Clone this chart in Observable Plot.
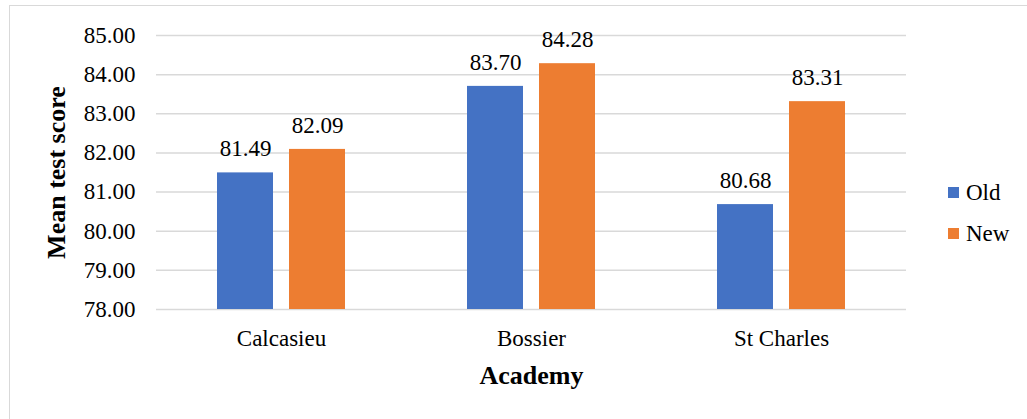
<!DOCTYPE html>
<html>
<head>
<meta charset="utf-8">
<script src="https://cdn.jsdelivr.net/npm/d3@7"></script>
<script src="https://cdn.jsdelivr.net/npm/@observablehq/plot@0.6"></script>
<style>
  html, body { margin: 0; padding: 0; background: #fff; overflow: hidden; width: 1027px; height: 419px; }
  #frame { position: absolute; left: 9px; top: 5px; width: 1100px; height: 500px; border: 1.5px solid #d9d9d9; box-sizing: border-box; }
  #chart { position: absolute; left: 0; top: 0; }
  #chart svg text, #chart svg g { font-family: "Liberation Serif", "Times New Roman", serif !important; font-variant: normal !important; font-variant-numeric: normal !important; }
  #legend { position: absolute; left: 948px; top: 181px; font-family: "Liberation Serif", "Times New Roman", serif; font-size: 23px; color: #000; }
  .row { display: flex; align-items: center; height: 23px; line-height: 23px; margin-bottom: 18px; }
  .sw { width: 11px; height: 11px; margin-right: 7px; }
</style>
</head>
<body>
<div id="frame"></div>
<div id="chart"></div>
<div id="legend"></div>
<script>
const academies = ["Calcasieu", "Bossier", "St Charles"];
const seriesNames = ["Old", "New"];
const oldScores = [81.49, 83.70, 80.68];
const newScores = [82.09, 84.28, 83.31];
const yTicks = [78, 79, 80, 81, 82, 83, 84, 85];
const colors = ["#4472C4", "#ED7D31"];
const yTitle = "Mean test score";
const xTitle = "Academy";

const data = academies.flatMap((a, i) => [
  {academy: a, series: seriesNames[0], value: oldScores[i]},
  {academy: a, series: seriesNames[1], value: newScores[i]}
]);

const fmt = d => d.toFixed(2);

const chart = Plot.plot({
  width: 1027,
  height: 419,
  marginLeft: 156,
  marginRight: 121,
  marginTop: 35,
  marginBottom: 110,
  style: {fontFamily: "'Liberation Serif', 'Times New Roman', serif", fontSize: "23px", color: "#000", background: "transparent", overflow: "visible"},
  fx: {domain: academies, padding: 0, label: null, axis: "bottom", tickSize: 0, tickPadding: 20},
  x: {domain: seriesNames, paddingInner: 16 / 72, paddingOuter: 0.847, axis: null},
  y: {domain: [78, 85], ticks: yTicks, tickFormat: fmt, tickSize: 0, tickPadding: 21, label: null},
  color: {domain: seriesNames, range: colors},
  marks: [
    Plot.ruleY(yTicks, {stroke: "#d9d9d9", strokeWidth: 1.5}),
    Plot.barY(data, {fx: "academy", x: "series", y1: yTicks[0], y2: "value", fill: "series"}),
    Plot.text(data, {fx: "academy", x: "series", y: "value", text: d => fmt(d.value), lineAnchor: "middle", dy: -24, fill: "#000", fontVariant: "normal"}),
    Plot.text([yTitle], {fx: () => academies[0], text: d => d, frameAnchor: "left", textAnchor: "middle", rotate: -90, dx: -100, lineAnchor: "middle", fontWeight: "bold", fontSize: 26, fill: "#000"}),
    Plot.text([xTitle], {fx: () => academies[1], text: d => d, frameAnchor: "bottom", textAnchor: "middle", dy: 66, lineAnchor: "middle", fontWeight: "bold", fontSize: 26, fill: "#000"})
  ]
});
document.getElementById("chart").appendChild(chart);

const legend = document.getElementById("legend");
seriesNames.forEach((s, i) => {
  const row = document.createElement("div");
  row.className = "row";
  const sw = document.createElement("span");
  sw.className = "sw";
  sw.style.background = colors[i];
  const label = document.createElement("span");
  label.textContent = s;
  row.appendChild(sw);
  row.appendChild(label);
  legend.appendChild(row);
});
</script>
</body>
</html>
